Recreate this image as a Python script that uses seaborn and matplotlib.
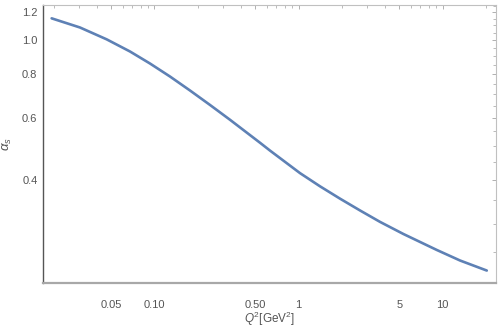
import numpy as np
import pandas as pd
import seaborn as sns
import matplotlib
matplotlib.use("Agg")
import matplotlib.pyplot as plt
from matplotlib.ticker import FixedLocator, FixedFormatter, NullFormatter

# data (Q^2 in GeV^2, alpha_s)
q2 = [0.01932, 0.03039, 0.04657, 0.06761, 0.09306, 0.1281, 0.1764, 0.2428,
      0.3344, 0.5403, 0.6339, 1.024, 1.410, 1.942, 2.674, 3.681, 5.343,
      9.115, 13.23, 20.27]
alpha_s = [1.152, 1.085, 1.004, 0.9273, 0.8572, 0.7873, 0.7185, 0.6537,
           0.5932, 0.5104, 0.4849, 0.4184, 0.3838, 0.3540, 0.3277, 0.3041,
           0.2810, 0.2531, 0.2362, 0.2212]

x_major = [0.05, 0.10, 0.50, 1, 5, 10]
x_major_labels = ["0.05", "0.10", "0.50", "1", "5", "10"]
x_minor = [0.02, 0.03, 0.04, 0.06, 0.07, 0.08, 0.09, 0.2, 0.3, 0.4, 0.6, 0.7,
           0.8, 0.9, 2, 3, 4, 6, 7, 8, 9, 20]
y_major = [0.4, 0.6, 0.8, 1.0, 1.2]
y_major_labels = ["0.4", "0.6", "0.8", "1.0", "1.2"]
y_minor = [0.25, 0.3, 0.35, 0.45, 0.5, 0.55, 0.65, 0.7, 0.75, 0.85, 0.9, 0.95,
           1.05, 1.1, 1.15, 1.25]

df = pd.DataFrame({"Q2": q2, "alpha": alpha_s})

sns.set_style("white")
plt.rcParams["font.family"] = ["Liberation Sans", "DejaVu Sans"]
plt.rcParams["mathtext.fontset"] = "custom"
plt.rcParams["mathtext.rm"] = "Liberation Sans"
plt.rcParams["mathtext.it"] = "Liberation Sans:italic"

fig = plt.figure(figsize=(5.01, 3.28), dpi=100)
ax = fig.add_axes([43 / 501, (328 - 283) / 328, (495.5 - 43) / 501, (283 - 5) / 328])

sns.lineplot(data=df, x="Q2", y="alpha", ax=ax, color="#5E81B5", linewidth=1.9)

ax.set_xscale("log")
ax.set_yscale("log")
ax.set_xlim(0.01683, 23.3)
ax.set_ylim(0.2039, 1.257)

ax.xaxis.set_major_locator(FixedLocator(x_major))
ax.xaxis.set_major_formatter(FixedFormatter(x_major_labels))
ax.xaxis.set_minor_locator(FixedLocator(x_minor))
ax.xaxis.set_minor_formatter(NullFormatter())
ax.yaxis.set_major_locator(FixedLocator(y_major))
ax.yaxis.set_major_formatter(FixedFormatter(y_major_labels))
ax.yaxis.set_minor_locator(FixedLocator(y_minor))
ax.yaxis.set_minor_formatter(NullFormatter())

tick_col = "#b0b0b0"
ax.tick_params(axis="both", which="both", direction="in", top=True, right=True,
               color=tick_col, labelcolor="#555555", labelsize=8)
ax.tick_params(axis="both", which="major", length=3.2, width=0.7)
ax.tick_params(axis="both", which="minor", length=1.9, width=0.6)
ax.tick_params(axis="x", which="major", pad=12)
ax.tick_params(axis="y", which="major", pad=4)

ax.spines["left"].set_color("#555555")
ax.spines["left"].set_linewidth(1.0)
ax.spines["bottom"].set_color("#a8a8a8")
ax.spines["bottom"].set_linewidth(1.6)
ax.spines["top"].set_color("#c0c0c0")
ax.spines["top"].set_linewidth(0.8)
ax.spines["right"].set_color("#c0c0c0")
ax.spines["right"].set_linewidth(0.8)

ax.set_xlabel(r"$Q^2$[GeV$^2$]", color="#555555", fontsize=8.5, labelpad=0)
ax.set_ylabel(r"$\alpha_s$", color="#555555", fontsize=9.5, labelpad=6)

fig.savefig("out.png", dpi=100)
